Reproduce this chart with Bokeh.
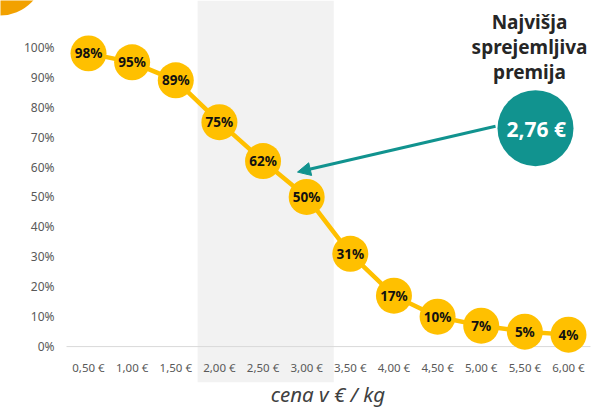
from bokeh.plotting import figure
from bokeh.models import Range1d, FixedTicker, BoxAnnotation, Arrow, NormalHead, ColumnDataSource
from bokeh.core.properties import value
from bokeh.embed import file_html
from bokeh.resources import INLINE

# ---- data ----
prices = [0.5, 1.0, 1.5, 2.0, 2.5, 3.0, 3.5, 4.0, 4.5, 5.0, 5.5, 6.0]
price_labels = ["0,50 €", "1,00 €", "1,50 €", "2,00 €", "2,50 €", "3,00 €",
                "3,50 €", "4,00 €", "4,50 €", "5,00 €", "5,50 €", "6,00 €"]
share = [98, 95, 89, 75, 62, 50, 31, 17, 10, 7, 5, 4]
y_ticks = [0, 10, 20, 30, 40, 50, 60, 70, 80, 90, 100]
y_tick_labels = ["0%", "10%", "20%", "30%", "40%", "50%", "60%", "70%", "80%", "90%", "100%"]
band_from, band_to = 1.75, 3.31
premium_text = "2,76 €"
callout_lines = ["Najvišja", "sprejemljiva", "premija"]
x_title = "cena v € / kg"

GOLD = "#FFC000"
TEAL = "#11938F"
ORANGE = "#F2A100"
FONT = "Noto Sans"

X0, X1 = -0.5084, 6.2637
Y0, Y1 = -12.0, 115.67

p = figure(width=591, height=410, output_backend="svg", toolbar_location=None,
           x_range=Range1d(X0, X1), y_range=Range1d(Y0, Y1),
           min_border_left=0, min_border_right=0, min_border_top=0, min_border_bottom=0)
p.outline_line_color = None
p.xgrid.visible = False
p.ygrid.visible = False

# axes
p.xaxis.ticker = FixedTicker(ticks=prices)
p.xaxis.major_label_overrides = {x: l for x, l in zip(prices, price_labels)}
p.yaxis.ticker = FixedTicker(ticks=y_ticks)
p.yaxis.major_label_overrides = {t: l for t, l in zip(y_ticks, y_tick_labels)}
for ax in (p.xaxis, p.yaxis):
    ax.axis_line_color = None
    ax.major_tick_line_color = None
    ax.minor_tick_line_color = None
    ax.major_tick_out = 0
    ax.major_tick_in = 0
    ax.minor_tick_out = 0
    ax.major_label_text_font = FONT
    ax.major_label_text_color = "#595959"
p.xaxis.major_label_text_font_size = "11.5px"
p.yaxis.major_label_text_font_size = "12px"
p.yaxis.major_label_standoff = -54
p.xaxis.major_label_standoff = -23
# leading no-break spaces shift the centred title right, as in the reference
p.xaxis.axis_label = "\u00a0" * 12 + x_title
p.xaxis.axis_label_text_font = FONT
p.xaxis.axis_label_text_font_style = "italic"
p.xaxis.axis_label_text_font_size = "20.5px"
p.xaxis.axis_label_text_color = "#404040"
p.xaxis.axis_label_standoff = 2

# shaded band
p.add_layout(BoxAnnotation(left=band_from, right=band_to, fill_color="#F2F2F2", fill_alpha=1,
                           line_color=None, level="underlay"))

# decorative corner circle
p.scatter(x=[-0.52], y=[125.67], size=90, fill_color=ORANGE, line_color=None)

# baseline (0 %)
p.segment(x0=[0.248], y0=[0], x1=[6.252], y1=[0], line_color="#D9D9D9", line_width=1)

src = ColumnDataSource(dict(x=prices, y=share, lab=[f"{s}%" for s in share]))
p.line("x", "y", source=src, line_color=GOLD, line_width=4.5)
p.scatter("x", "y", source=src, size=36, fill_color=GOLD, line_color=None)
p.text("x", "y", text="lab", source=src, text_font=value(FONT), text_font_style="bold",
       text_font_size="13.5px", text_align="center", text_baseline="middle", text_color="#111111")

# call-out
p.add_layout(Arrow(end=NormalHead(size=13, fill_color=TEAL, line_color=TEAL),
                   x_start=5.164, y_start=73.67, x_end=2.895, y_end=58.33,
                   line_color=TEAL, line_width=3))
p.scatter(x=[5.622], y=[73.0], size=76, fill_color=TEAL, line_color=None)
p.text(x=[5.63], y=[72.7], text=[premium_text], text_font=value(FONT), text_font_style="bold",
       text_font_size="21px", text_align="center", text_baseline="middle", text_color="white")
p.text(x=[5.553] * 3, y=[108.33, 100.0, 91.67], text=callout_lines, text_font=value(FONT),
       text_font_style="bold", text_font_size="19px", text_align="center",
       text_baseline="middle", text_color="#262626")

open("out.html", "w").write(file_html(p, INLINE))
